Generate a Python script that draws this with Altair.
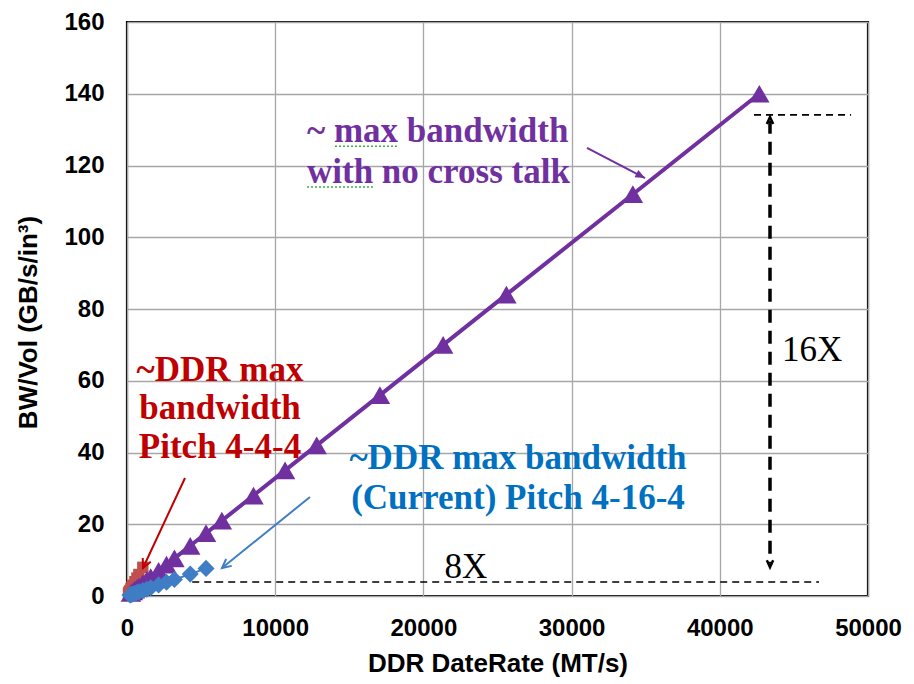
import altair as alt
import pandas as pd

# DDR data rate (MT/s) vs. bandwidth per volume (GB/s/in^3)
purple_x = [267, 400, 533, 667, 800, 1067, 1333, 1600, 2133, 2667, 3200, 4267,
            5333, 6400, 8533, 10667, 12800, 17067, 21333, 25600, 34133, 42667]
purple_y = [0.9, 1.3, 1.75, 2.2, 2.6, 3.5, 4.4, 5.25, 7.0, 8.75, 10.5, 14.0,
            17.5, 21.0, 28.0, 35.0, 42.0, 56.0, 70.0, 84.0, 112.0, 140.0]

blue_x = [200, 267, 333, 400, 533, 667, 800, 1067, 1333, 1600, 2133, 2667, 3200, 4267, 5333]
blue_y = [0.29, 0.38, 0.48, 0.58, 0.77, 0.95, 1.15, 1.55, 1.9, 2.3, 3.1, 3.85, 4.6, 6.1, 7.7]

red_x = [100, 133, 167, 200, 267, 333, 400, 533, 667, 800, 1067]
red_y = [0.75, 1.0, 1.25, 1.5, 2.0, 2.5, 3.0, 4.0, 5.0, 6.0, 8.0]

x_ticks = [0, 10000, 20000, 30000, 40000, 50000]
y_ticks = [0, 20, 40, 60, 80, 100, 120, 140, 160]

PURPLE = "#7030A0"
BLUE_MARK = "#3F7DC4"
RED_MARK = "#C0504D"
RED_TEXT = "#C00000"
BLUE_TEXT = "#0070C0"

# annotation texts: x, y, text, colour, alignment
notes_x = [6276, 6276, 6276, 26383, 26383, 12146, 12146, 46224, 22875]
notes_y = [63.0, 52.4, 41.5, 38.5, 27.3, 129.6, 118.2, 68.6, 8.1]
notes_text = ["~DDR max", "bandwidth", "Pitch 4-4-4",
              "~DDR max bandwidth", "(Current) Pitch 4-16-4",
              "~ max bandwidth", "with no cross talk", "16X", "8X"]
notes_color = [RED_TEXT, RED_TEXT, RED_TEXT, BLUE_TEXT, BLUE_TEXT,
               PURPLE, PURPLE, "black", "black"]
notes_align = ["center", "center", "center", "center", "center",
               "left", "left", "center", "center"]
notes_weight = ["bold"] * 7 + ["normal", "normal"]

# pointer arrows: start, end, colour
arrow_x1 = [31039, 3914, 12348]
arrow_y1 = [124.9, 32.9, 27.6]
arrow_x2 = [34953, 1080, 6410]
arrow_y2 = [116.5, 7.8, 7.8]
arrow_angle = [117.3, 205.0, 231.1]
arrow_color = [PURPLE, RED_TEXT, BLUE_MARK]

xs = alt.Scale(domain=[0, 50000], nice=False, zero=True)
ys = alt.Scale(domain=[0, 160], nice=False, zero=True)

X = alt.X("x:Q", scale=xs, axis=alt.Axis(values=x_ticks, format="d",
          labelFlush=False, title="DDR DateRate (MT/s)", titleX=370.5,
          titleY=67, titleBaseline="middle"))
Y = alt.Y("y:Q", scale=ys, axis=alt.Axis(values=y_ticks, format="d",
          title="BW/Vol (GB/s/in³)", titleX=-99, titleY=300,
          titleBaseline="middle", titleAlign="center", titleAngle=270))


def series(xv, yv, color, shape, size, width):
    df = pd.DataFrame({"x": xv, "y": yv})
    line = alt.Chart(df).mark_line(color=color, strokeWidth=width).encode(x=X, y=Y)
    pts = alt.Chart(df).mark_point(shape=shape, filled=True, opacity=1,
                                   color=color, size=size).encode(x=X, y=Y)
    return line + pts


red = series(red_x, red_y, RED_MARK, "square", 130, 2)
purple = series(purple_x, purple_y, PURPLE, "triangle-up", 420, 4)
blue = series(blue_x, blue_y, BLUE_MARK, "diamond", 290, 2)

notes_df = pd.DataFrame({"x": notes_x, "y": notes_y, "t": notes_text,
                         "c": notes_color, "a": notes_align, "w": notes_weight})
notes = []
for (al, wt), grp in notes_df.groupby(["a", "w"]):
    notes.append(
        alt.Chart(grp).mark_text(font="Liberation Serif", fontSize=35,
                                 fontWeight=wt, align=al, baseline="middle")
        .encode(x=X, y=Y, text="t:N", color=alt.Color("c:N", scale=None))
    )

arrows_df = pd.DataFrame({"x": arrow_x1, "y": arrow_y1, "x2": arrow_x2,
                          "y2": arrow_y2, "ang": arrow_angle, "c": arrow_color})
arrow_lines = alt.Chart(arrows_df).mark_rule(strokeWidth=2).encode(
    x=X, y=Y, x2="x2:Q", y2="y2:Q", color=alt.Color("c:N", scale=None))

heads_df = pd.DataFrame({"x": arrow_x2, "y": arrow_y2, "ang": arrow_angle,
                         "c": arrow_color})
heads_filled = alt.Chart(heads_df.iloc[[0]]).mark_point(
    shape="M0,0 L-0.55,1.3 L0.55,1.3 Z", filled=True, opacity=1, size=220
).encode(x=X, y=Y, angle=alt.Angle("ang:Q", scale=None),
         color=alt.Color("c:N", scale=None))
heads_open = alt.Chart(heads_df.iloc[[1, 2]]).mark_point(
    shape="M-0.6,1.2 L0,0 L0.6,1.2", filled=False, opacity=1, size=220, strokeWidth=2
).encode(x=X, y=Y, angle=alt.Angle("ang:Q", scale=None),
         color=alt.Color("c:N", scale=None))

# dashed reference lines and the 16X span marker
ref_x = [42309, 4400]
ref_x2 = [48857, 46694]
ref_y = [134.1, 3.9]
ref_df = pd.DataFrame({"x": ref_x, "x2": ref_x2, "y": ref_y})
ref_lines = alt.Chart(ref_df).mark_rule(color="black", strokeWidth=1.6,
                                        strokeDash=[7, 5]).encode(x=X, x2="x2:Q", y=Y)

span_x = [43387]
span_top = [132.5]
span_bottom = [9.0]
span_df = pd.DataFrame({"x": span_x, "y": span_top, "y2": span_bottom})
span_line = alt.Chart(span_df).mark_rule(color="black", strokeWidth=3.5,
                                         strokeDash=[13, 8]).encode(x=X, y=Y, y2="y2:Q")
span_heads_df = pd.DataFrame({"x": span_x * 2, "y": [133.5, 8.0], "ang": [0, 180]})
span_heads = alt.Chart(span_heads_df).mark_point(
    shape="M-0.5,1.1 L0,0 L0.5,1.1", filled=False, opacity=1, size=160,
    strokeWidth=2.5, color="black"
).encode(x=X, y=Y, angle=alt.Angle("ang:Q", scale=None))

# spell-check squiggles under the purple note
sq_df = pd.DataFrame({"x": [14036, 12146], "x2": [18287, 16600], "y": [125.4, 114.0]})
squiggles = alt.Chart(sq_df).mark_rule(color="#3CB043", strokeWidth=1.5,
                                       strokeDash=[2, 2]).encode(x=X, x2="x2:Q", y=Y)

chart = alt.layer(
    ref_lines, span_line, span_heads, red, purple, blue,
    arrow_lines, heads_filled, heads_open, squiggles, *notes
).properties(
    width=741, height=574,
    padding={"left": 127, "top": 22, "right": 46, "bottom": 88},
    autosize=alt.AutoSizeParams(type="none"),
    background="white",
).configure_view(
    stroke="black", strokeWidth=2.2
).configure_axis(
    grid=True, gridColor="#A6A6A6", gridWidth=1.3, domain=False, ticks=False,
    labelFont="Liberation Sans", labelFontWeight="bold", labelFontSize=24,
    labelColor="black", titleFont="Liberation Sans", titleFontWeight="bold",
    titleFontSize=26, titleColor="black"
).configure_axisX(labelPadding=20).configure_axisY(labelPadding=23)

chart.save("out.html", embed_options={"renderer": "svg", "actions": False})
